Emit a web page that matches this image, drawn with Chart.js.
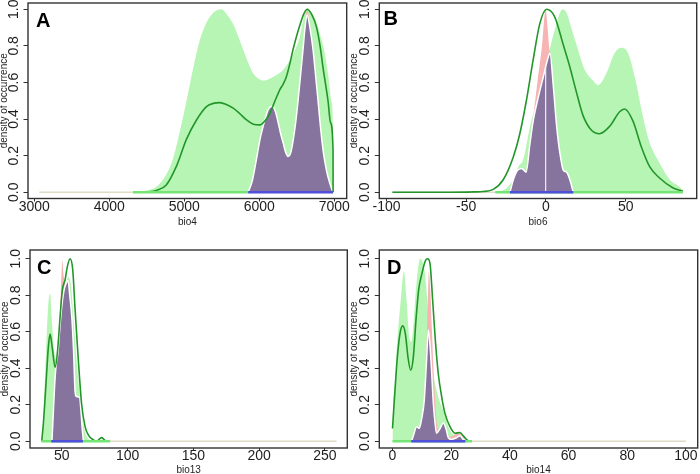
<!DOCTYPE html>
<html>
<head>
<meta charset="utf-8">
<script src="https://cdn.jsdelivr.net/npm/chart.js@4.4.1/dist/chart.umd.min.js"></script>
<style>
html, body { margin: 0; padding: 0; background: #fff; }
#wrap { position: relative; width: 700px; height: 474px; overflow: hidden; }
canvas { position: absolute; }
</style>
</head>
<body>
<div id="wrap">
  <canvas id="cA" width="350" height="240" style="left:0;top:0;width:350px;height:240px"></canvas>
  <canvas id="cB" width="350" height="240" style="left:350px;top:0;width:350px;height:240px"></canvas>
  <canvas id="cC" width="350" height="234" style="left:0;top:240px;width:350px;height:234px"></canvas>
  <canvas id="cD" width="350" height="234" style="left:350px;top:240px;width:350px;height:234px"></canvas>
</div>
<script>
const FONT = '"Liberation Sans", Arial, Helvetica, sans-serif';
Chart.defaults.font.family = FONT;

const yTicks = [0, 0.2, 0.4, 0.6, 0.8, 1.0];

// --- A: bio4 ---
const aTicks = [3000, 4000, 5000, 6000, 7000];
const aGreen = [[4317,0],[4500,0.01],[4630,0.03],[4750,0.09],[4848,0.18],[4940,0.33],[5030,0.5],[5120,0.68],[5207,0.83],[5300,0.93],[5384,0.98],[5496,1.0],[5570,0.97],[5650,0.92],[5720,0.85],[5785,0.78],[5850,0.71],[5918,0.65],[5990,0.62],[6051,0.61],[6140,0.62],[6229,0.64],[6320,0.67],[6406,0.72],[6470,0.77],[6540,0.85],[6590,0.95],[6636,1.0],[6700,0.98],[6760,0.93],[6805,0.87],[6872,0.76],[6925,0.62],[6960,0.5],[6980,0.38],[6984,0]];
const aPink = [[5851,0],[5905,0.06],[5962,0.18],[6010,0.29],[6051,0.36],[6085,0.41],[6117,0.45],[6175,0.47],[6215,0.44],[6252,0.38],[6285,0.32],[6318,0.27],[6350,0.22],[6384,0.195],[6415,0.21],[6450,0.28],[6485,0.38],[6517,0.5],[6550,0.64],[6583,0.79],[6610,0.92],[6637,1.0],[6675,0.92],[6716,0.79],[6750,0.64],[6783,0.5],[6815,0.36],[6850,0.23],[6895,0.12],[6939,0.05],[6983,0]];
const aPurple = [[5851,0],[5905,0.06],[5962,0.18],[6010,0.29],[6051,0.36],[6085,0.41],[6117,0.45],[6175,0.47],[6215,0.44],[6252,0.38],[6285,0.32],[6318,0.27],[6350,0.22],[6384,0.195],[6415,0.21],[6450,0.28],[6485,0.38],[6517,0.5],[6550,0.64],[6583,0.78],[6610,0.9],[6637,0.97],[6675,0.9],[6716,0.78],[6750,0.64],[6783,0.5],[6815,0.36],[6850,0.23],[6895,0.12],[6939,0.05],[6983,0]];
const aLine = [[4483,0],[4630,0.01],[4760,0.04],[4893,0.14],[5030,0.29],[5163,0.395],[5296,0.468],[5400,0.487],[5474,0.49],[5560,0.48],[5652,0.46],[5740,0.43],[5830,0.395],[5920,0.372],[6007,0.368],[6075,0.39],[6140,0.43],[6210,0.5],[6273,0.56],[6317,0.59],[6360,0.63],[6406,0.7],[6450,0.78],[6495,0.85],[6562,0.94],[6600,0.98],[6639,1.0],[6700,0.97],[6761,0.905],[6810,0.8],[6850,0.68],[6916,0.5],[6950,0.38],[6983,0.23],[6984,0]];
const aBeige = [3068, 6983];
const aGreenBar = [4317, 5851];
const aBlueBar = [5851, 6983];

// --- B: bio6 ---
const bTicks = [-100, -50, 0, 50];
const bGreen = [[-31.8,0],[-25,0.02],[-20,0.08],[-17.3,0.14],[-14.2,0.18],[-10,0.36],[-4.8,0.52],[1.5,0.75],[5.6,0.89],[10.4,1.0],[13,0.98],[15.5,0.91],[19,0.81],[24.3,0.67],[29.5,0.61],[32.6,0.585],[37.9,0.65],[43,0.76],[47.3,0.79],[51.5,0.76],[56.7,0.59],[60.9,0.41],[65,0.27],[71.2,0.16],[77.5,0.07],[83.7,0.03],[85.9,0.01]];
const bPink = [[-22.6,0],[-20.5,0.067],[-18,0.118],[-15.2,0.13],[-12.5,0.11],[-10,0.27],[-7.9,0.42],[-5.4,0.6],[-2.5,0.8],[-0.2,1.0],[1.0,0.9],[1.9,0.8],[2.5,0.76],[4.6,0.58],[6.7,0.36],[8.8,0.21],[10.9,0.12],[12.9,0.11],[15,0.067],[17.1,0]];
const bPurple = [[-22.6,0],[-20.5,0.067],[-18,0.118],[-15.2,0.13],[-12.5,0.11],[-10,0.27],[-7.9,0.395],[-4.8,0.52],[-1.7,0.63],[1.5,0.74],[2.5,0.76],[4.6,0.58],[6.7,0.36],[8.8,0.21],[10.9,0.12],[12.9,0.11],[15,0.067],[17.1,0]];
const bSeam = [[-0.2,0],[-0.2,0.68]];
const bLine = [[-96.3,0],[-60,0],[-45,0.002],[-39.3,0.004],[-33.1,0.016],[-26.9,0.067],[-20.6,0.19],[-16.4,0.32],[-12.3,0.5],[-8.1,0.72],[-3.9,0.92],[0.4,1.0],[5.4,0.96],[10.7,0.81],[14.8,0.69],[19,0.55],[23.2,0.42],[28.4,0.34],[33.6,0.32],[39.9,0.36],[46.2,0.44],[49.3,0.455],[54.5,0.39],[59.7,0.25],[65,0.14],[71.2,0.078],[79.5,0.025],[85.9,0.005]];
const bBeige = [-96.3, 85.9];
const bGreenBar = [-31.8, 85.9];
const bBlueBar = [-22.6, 17.1];

// --- C: bio13 ---
const cTicks = [50, 100, 150, 200, 250];
const cGreen = [[34.5,0],[36,0.13],[38,0.5],[39.8,0.76],[41.1,0.81],[42.3,0.68],[44.1,0.5],[45.6,0.45],[47,0.5],[49,0.68],[51,0.8],[53,0.86],[55,0.9],[57,0.85],[59,0.66],[61,0.46],[63,0.3],[65,0.16],[67,0.07],[69,0.025],[71,0.008],[74,0]];
const cPink = [[42.5,0],[43.5,0.15],[44.5,0.3],[45.7,0.42],[47,0.5],[48.2,0.65],[49.2,0.8],[50.4,0.99],[51.2,0.92],[52.2,0.87],[53,0.86],[54.8,0.88],[56,0.8],[57.6,0.68],[58.9,0.5],[60.1,0.27],[61,0.245],[63.5,0.24],[64.5,0.17],[65.5,0.07],[66.4,0]];
const cPurple = [[42.5,0],[43.5,0.15],[44.5,0.3],[45.7,0.42],[47,0.48],[48.5,0.62],[50,0.74],[51.5,0.82],[53,0.86],[54.8,0.88],[56,0.8],[57.6,0.68],[58.9,0.5],[60.1,0.27],[61,0.245],[63.5,0.24],[64.5,0.17],[65.5,0.07],[66.4,0]];
const cLine = [[34.7,0],[36,0.1],[38,0.32],[39.8,0.52],[41.1,0.588],[42.6,0.52],[44.9,0.405],[46.6,0.483],[48.7,0.683],[50.4,0.83],[52.5,0.885],[54.2,0.957],[56.3,1.0],[58.3,0.94],[60.1,0.72],[62.6,0.44],[65.1,0.2],[67.7,0.08],[70.2,0.034],[74,0.007],[76.5,0],[78.5,0.012],[80.3,0.02],[82,0.01],[84.1,0],[86.7,0]];
const cBeige = [86.7, 259];
const cGreenBar = [34.5, 86.7];
const cBlueBar = [42, 66];

// --- D: bio14 ---
const dTicks = [0, 20, 40, 60, 80, 100];
const dGreen = [[0,0],[0.02,0.06],[0.7,0.3],[1.4,0.5],[2.8,0.77],[3.9,0.93],[4.8,0.77],[5.7,0.57],[6.4,0.545],[7.3,0.68],[8.2,0.87],[9.4,1.0],[10.3,0.98],[11.2,0.9],[12.2,0.7],[13,0.5],[14,0.36],[15,0.28],[16,0.22],[17,0.18],[18,0.14],[19,0.08],[20,0.05],[21,0.035],[22,0.04],[23,0.04],[24,0.03],[25,0.015],[26,0.005],[27,0]];
const dPink = [[6.5,0],[7.3,0.04],[8.2,0.08],[9.1,0.07],[9.9,0.12],[10.8,0.24],[11.5,0.48],[12,0.75],[12.4,0.93],[12.9,0.82],[13.4,0.62],[13.9,0.42],[14.4,0.26],[14.9,0.13],[15.4,0.07],[16.2,0.07],[17.3,0.1],[18.2,0.07],[19,0.03],[20,0.025],[21,0.035],[22,0.045],[23,0.045],[24,0.03],[25,0]];
const dPurple = [[6.5,0],[7.3,0.04],[8.2,0.08],[9.1,0.07],[9.9,0.12],[10.8,0.22],[11.6,0.44],[12.2,0.61],[12.8,0.52],[13.3,0.39],[13.9,0.21],[14.5,0.1],[15,0.044],[16.2,0.07],[17.3,0.1],[18.2,0.07],[19,0.02],[20.1,0.01],[21.9,0.02],[23,0.03],[24.1,0.01],[25,0]];
const dLine = [[0,0.07],[0.85,0.28],[1.65,0.46],[2.55,0.59],[3.46,0.632],[4.37,0.59],[5.28,0.46],[6.18,0.39],[7.09,0.46],[8,0.665],[8.91,0.83],[10.05,0.92],[11.07,0.984],[11.97,1.0],[12.77,0.975],[13.68,0.774],[14.59,0.555],[15.6,0.37],[16.74,0.245],[17.88,0.153],[19.58,0.08],[21.3,0.044],[23,0.048],[24.35,0.025],[25.8,0.003],[27,0]];
const dBeige = [27, 100];
const dGreenBar = [0, 27];
const dBlueBar = [6.4, 24.8];

const COL = {
    fill: '#b6f5b4',
    pink: '#f6b4b4',
    purple: '#86739e',
    line: '#23962a',
    gbar: '#74e474',
    bbar: '#4f4fdc',
    beige: '#dedcc6',
    axis: '#333333',
    text: '#1e1e1e'
};

const pts = arr => arr.map(p => ({ x: p[0], y: p[1] }));
const seg = r => [{ x: r[0], y: 0 }, { x: r[1], y: 0 }];

// frame, rotated y tick labels and panel letter
const decoPlugin = {
    id: 'deco',
    afterDraw(chart) {
        const o = chart.options.plugins.deco;
        const { ctx, chartArea } = chart;
        const ys = chart.scales.y;
        ctx.save();
        ctx.strokeStyle = COL.axis;
        ctx.lineWidth = 1.4;
        ctx.strokeRect(chartArea.left, chartArea.top, chartArea.right - chartArea.left, chartArea.bottom - chartArea.top);

        ctx.fillStyle = COL.text;
        ctx.font = '14px ' + FONT;
        ctx.textAlign = 'center';
        ctx.textBaseline = 'middle';
        yTicks.forEach(v => {
            const y = ys.getPixelForValue(v);
            ctx.save();
            ctx.translate(chartArea.left - 14, y);
            ctx.rotate(-Math.PI / 2);
            ctx.fillText(v.toFixed(1), 0, 0);
            ctx.restore();
        });

        ctx.fillStyle = '#000';
        ctx.font = 'bold 20px ' + FONT;
        ctx.textAlign = 'left';
        ctx.textBaseline = 'alphabetic';
        ctx.fillText(o.letter, o.lx, o.ly);
        ctx.restore();
    }
};

function makePanel(id, p) {
    const datasets = [
        { data: seg(p.beige), borderColor: COL.beige, borderWidth: 1.5, tension: 0, order: 9 },
        { data: pts(p.green), borderColor: 'rgba(0,0,0,0)', borderWidth: 1, backgroundColor: COL.fill, fill: 'origin', cubicInterpolationMode: 'monotone', order: 8 },
        { data: pts(p.pink), borderColor: 'rgba(0,0,0,0)', borderWidth: 1, backgroundColor: COL.pink, fill: 'origin', cubicInterpolationMode: 'monotone', order: 7 },
        { data: pts(p.purple), borderColor: '#ffffff', borderWidth: 1.5, backgroundColor: COL.purple, fill: 'origin', cubicInterpolationMode: 'monotone', order: 6 },
        { data: pts(p.line), borderColor: COL.line, borderWidth: 1.6, fill: false, cubicInterpolationMode: 'monotone', order: 3 },
        { data: seg(p.gbar), borderColor: COL.gbar, borderWidth: 2.5, tension: 0, order: 2 },
        { data: seg(p.bbar), borderColor: COL.bbar, borderWidth: 2.5, tension: 0, order: 1 }
    ];
    if (p.seam) {
        datasets.push({ data: pts(p.seam), borderColor: '#f0f0f0', borderWidth: 1.2, tension: 0, order: 5 });
    }

    new Chart(document.getElementById(id), {
        type: 'line',
        data: { datasets: datasets },
        plugins: [decoPlugin],
        options: {
            responsive: false,
            animation: false,
            events: [],
            elements: { point: { radius: 0 } },
            layout: { padding: { top: p.padTop, right: p.padRight, left: 0, bottom: 0 } },
            plugins: {
                legend: { display: false },
                tooltip: { enabled: false },
                deco: { letter: p.letter, lx: p.lx, ly: p.ly }
            },
            scales: {
                x: {
                    type: 'linear',
                    min: p.xMin,
                    max: p.xMax,
                    afterBuildTicks: s => { s.ticks = p.ticks.map(v => ({ value: v })); },
                    afterFit: s => { s.height = p.xh; },
                    ticks: {
                        autoSkip: false,
                        maxRotation: 0,
                        padding: 0,
                        color: COL.text,
                        font: { size: 14, lineHeight: 0.8 },
                        callback: v => String(v)
                    },
                    grid: { drawOnChartArea: false, tickLength: 3, color: COL.axis },
                    border: { display: false },
                    title: {
                        display: true,
                        text: p.xTitle,
                        color: COL.text,
                        font: { size: 10, lineHeight: p.titleLH },
                        padding: { top: 0, bottom: p.titlePad }
                    }
                },
                y: {
                    type: 'linear',
                    min: p.yMin,
                    max: p.yMax,
                    afterBuildTicks: s => { s.ticks = yTicks.map(v => ({ value: v })); },
                    afterFit: s => { s.width = p.yw; },
                    ticks: { display: false },
                    grid: { drawOnChartArea: false, tickLength: 4.5, color: COL.axis },
                    border: { display: false },
                    title: {
                        display: true,
                        text: 'density of occurrence',
                        color: COL.text,
                        font: { size: 10, lineHeight: 0.8 },
                        padding: { top: p.yTitlePad, bottom: 0 }
                    }
                }
            }
        }
    });
}

makePanel('cA', {
    letter: 'A', lx: 36, ly: 26.5, xTitle: 'bio4', ticks: aTicks,
    green: aGreen, pink: aPink, purple: aPurple, line: aLine,
    beige: aBeige, gbar: aGreenBar, bbar: aBlueBar,
    xMin: 2917, xMax: 7165, yMin: -0.034, yMax: 1.034,
    yw: 28, xh: 41.5, padTop: 3, padRight: 3, titleLH: 1.2, titlePad: 12, yTitlePad: 0
});

makePanel('cB', {
    letter: 'B', lx: 33.5, ly: 24.5, xTitle: 'bio6', ticks: bTicks,
    green: bGreen, pink: bPink, purple: bPurple, line: bLine, seam: bSeam,
    beige: bBeige, gbar: bGreenBar, bbar: bBlueBar,
    xMin: -104.5, xMax: 94.5, yMin: -0.034, yMax: 1.034,
    yw: 29.3, xh: 41.5, padTop: 3, padRight: 3.3, titleLH: 1.2, titlePad: 12, yTitlePad: 0
});

makePanel('cC', {
    letter: 'C', lx: 37, ly: 34, xTitle: 'bio13', ticks: cTicks,
    green: cGreen, pink: cPink, purple: cPurple, line: cLine,
    beige: cBeige, gbar: cGreenBar, bbar: cBlueBar,
    xMin: 25.8, xMax: 267.1, yMin: -0.037, yMax: 1.048,
    yw: 30, xh: 26, padTop: 10, padRight: 2.7, titleLH: 0.7, titlePad: 0, yTitlePad: 1
});

makePanel('cD', {
    letter: 'D', lx: 37, ly: 34, xTitle: 'bio14', ticks: dTicks,
    green: dGreen, pink: dPink, purple: dPurple, line: dLine,
    beige: dBeige, gbar: dGreenBar, bbar: dBlueBar,
    xMin: -4.5, xMax: 104, yMin: -0.037, yMax: 1.048,
    yw: 29.3, xh: 26, padTop: 10, padRight: 2.3, titleLH: 0.7, titlePad: 0, yTitlePad: 0
});
</script>
</body>
</html>
